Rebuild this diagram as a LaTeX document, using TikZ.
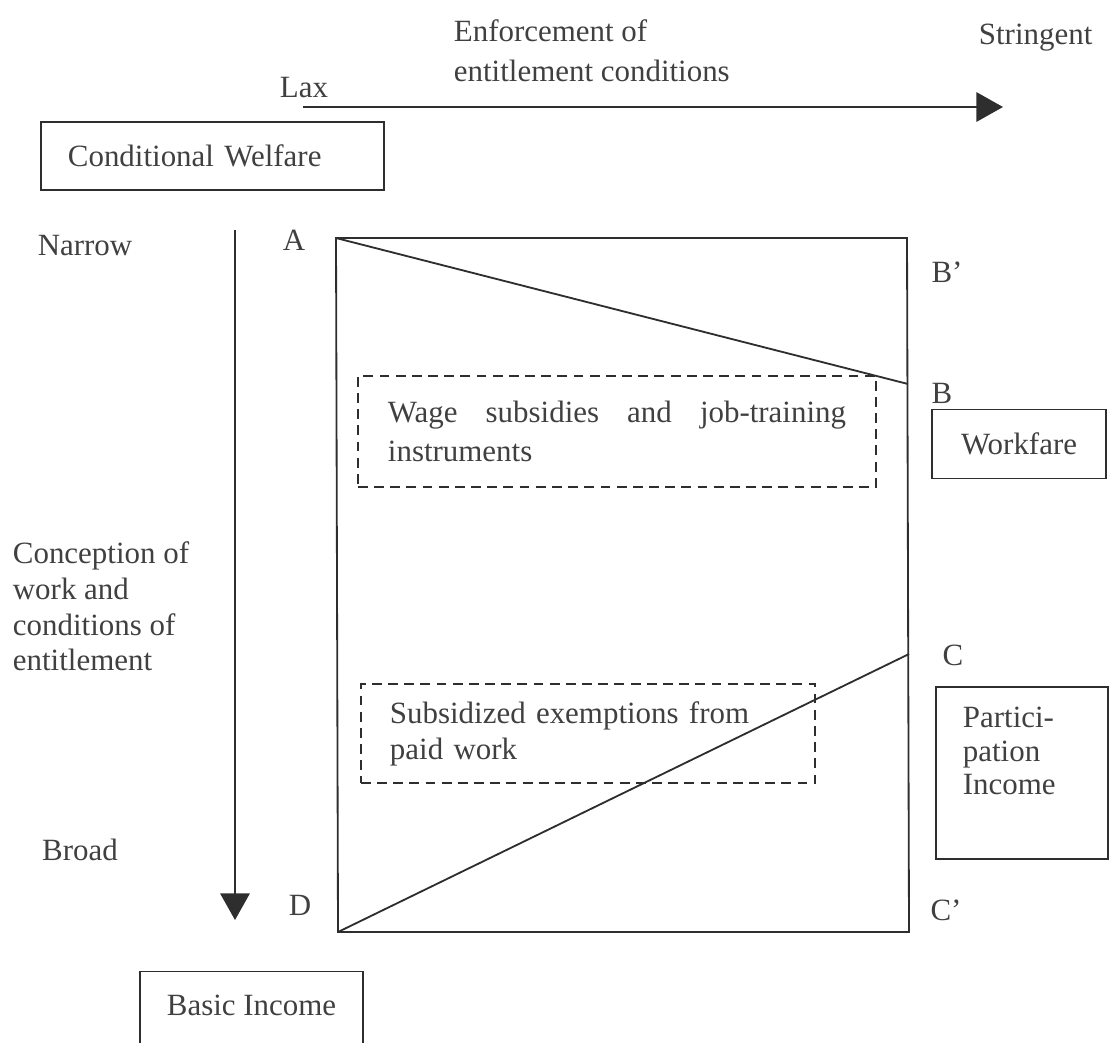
\documentclass[tikz,border=0pt]{standalone}
\usepackage{fontspec}
\setmainfont{Liberation Serif}
\usetikzlibrary{arrows.meta}
\definecolor{ink}{HTML}{2E2E2E}
\definecolor{txt}{HTML}{404040}

\begin{document}
\begin{tikzpicture}[x=0.025cm, y=-0.025cm, line width=1.3pt,
	every node/.style={text=txt, inner sep=0pt, font=\fontsize{22}{25}\selectfont},
	box/.style={draw=ink, line width=1.3pt},
	dashbox/.style={draw=ink, line width=1.2pt, dash pattern=on 7pt off 4.5pt}]
	\tikzset{arr/.style={draw=ink, -{Triangle[length=19pt,width=21pt]}}}
	\useasboundingbox (0,0) rectangle (1109,1042);
	\clip (0,0) rectangle (1109,1042);
	\node (lax) at (304,88) {Lax};
	\node[anchor=north west, align=left, font=\fontsize{22}{28}\selectfont] (enforce) at (453,19) {Enforcement of\\entitlement conditions};
	\node[anchor=west] (stringent) at (978,38) {Stringent};
	\coordinate (laxend) at (303,107);
	\coordinate (strictend) at (1003,107);
	\draw[arr] (laxend) -- (strictend);
	\node[box, anchor=west, minimum height=1.7cm, text width=7.225cm, inner xsep=0.675cm, align=left] (condwel) at (40,156) {Conditional Welfare};
	\node (narrow) at (85,246) {Narrow};
	\node[anchor=north west, align=left, font=\fontsize{22}{25.4}\selectfont] (conception) at (12,541) {Conception of\\work and\\conditions of\\entitlement};
	\node (broad) at (80,850) {Broad};
	\coordinate (narrowend) at (235,230);
	\coordinate (broadend) at (235,920);
	\draw[arr] (narrowend) -- (broadend);
	\coordinate (A) at (336,238);
	\coordinate (tr) at (907,238);
	\coordinate (br) at (909,932);
	\coordinate (D) at (338,932);
	\coordinate (B) at (908,384);
	\coordinate (C) at (909,654);
	\draw[ink] (A) -- (tr) -- (br) -- (D) -- cycle;
	\draw[ink] (A) -- (B);
	\draw[ink] (D) -- (C);
	\node (labA) at (294,240) {A};
	\node (labBp) at (947,272) {B'};
	\node (labB) at (942,393) {B};
	\node (labC) at (953,655) {C};
	\node (labCp) at (946,910) {C'};
	\node (labD) at (300,905) {D};
	\node[box, minimum width=4.35cm, minimum height=1.725cm] (workfare) at (1019,444) {Workfare};
	\node[box, anchor=north west, minimum width=4.3cm, minimum height=4.3cm] (partbox) at (935,686) {};
	\node[anchor=north west, align=left, font=\fontsize{22}{24}\selectfont] (parttext) at ([xshift=0.675cm,yshift=-0.5cm]partbox.north west) {Partici-\\pation\\Income};
	\node[dashbox, inner xsep=0.75cm, text width=11.45cm, minimum height=2.775cm, align=left, font=\fontsize{22}{28}\selectfont] (wage) at (617,431.5) {Wage\hfill subsidies\hfill and\hfill job-training\\instruments};
	\node[dashbox, inner xsep=0.725cm, text width=9.9cm, minimum height=2.475cm, align=left, font=\fontsize{22}{25.5}\selectfont] (exempt) at (588,733.5) {Subsidized exemptions from\\paid work};
	\node[box, anchor=base, minimum width=5.575cm, inner ysep=0.575cm, text depth=1cm] (basic) at (251.5,1015) {Basic Income};
\end{tikzpicture}
\end{document}
